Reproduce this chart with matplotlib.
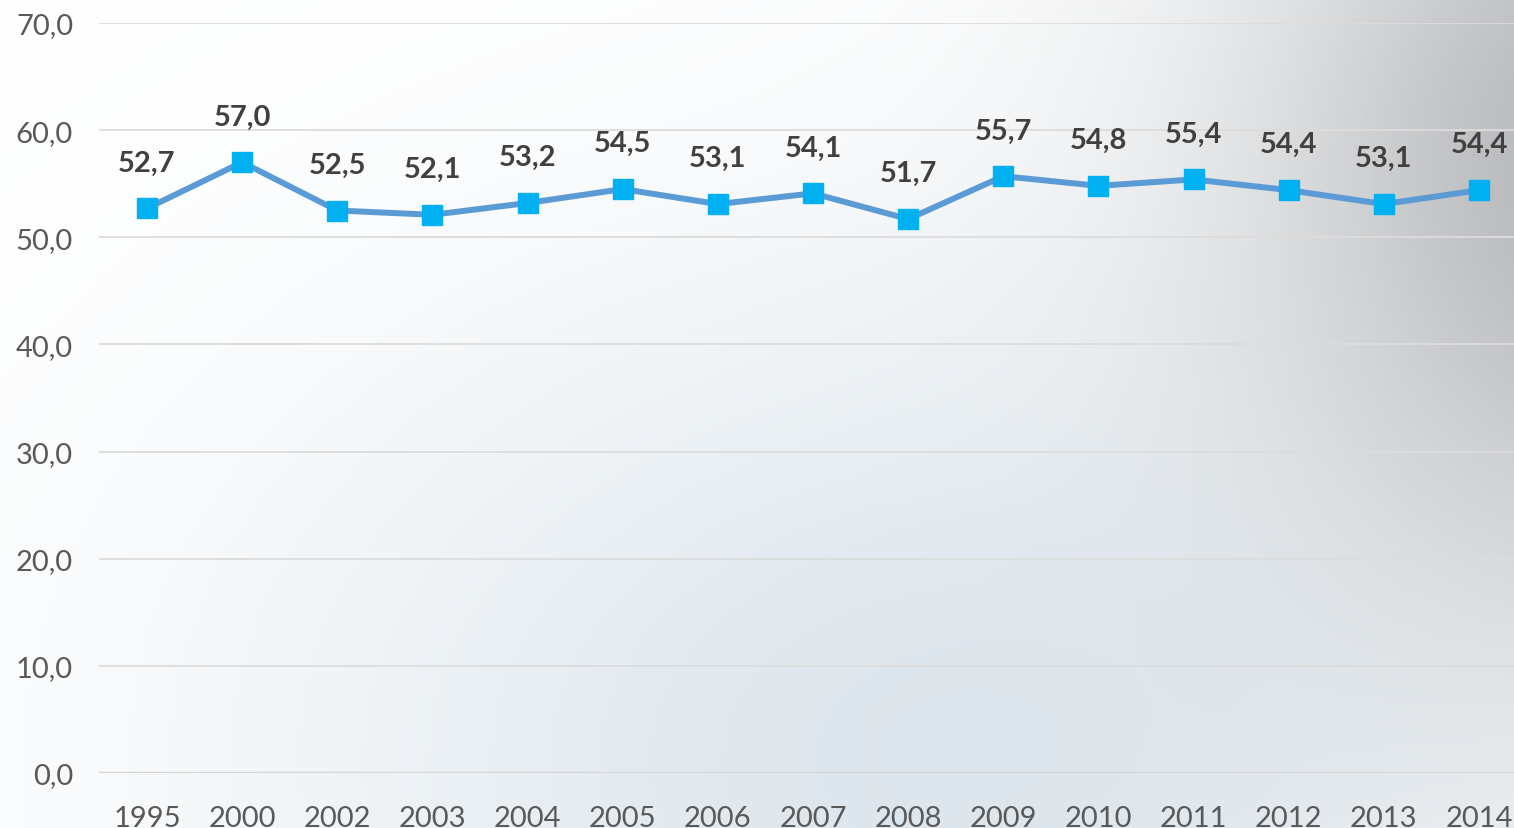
import numpy as np
import matplotlib
matplotlib.use("Agg")
import matplotlib.pyplot as plt

years = ["1995", "2000", "2002", "2003", "2004", "2005", "2006", "2007",
         "2008", "2009", "2010", "2011", "2012", "2013", "2014"]
values = [52.7, 57.0, 52.5, 52.1, 53.2, 54.5, 53.1, 54.1,
          51.7, 55.7, 54.8, 55.4, 54.4, 53.1, 54.4]
y_ticks = [0, 10, 20, 30, 40, 50, 60, 70]

plt.rcParams['font.family'] = ['Lato', 'DejaVu Sans']

W, H = 1514, 829
fig = plt.figure(figsize=(W / 100, H / 100), dpi=100)

# background gradient
bg = fig.add_axes([0, 0, 1, 1], zorder=0)
u = np.linspace(0, 1, 400)[None, :]
v = np.linspace(0, 1, 220)[:, None]
white = np.array([1.0, 1.0, 1.0])
blue = np.array([220, 229, 236]) / 255
gray = np.array([180, 182, 185]) / 255
b = np.exp(-((u - 0.62) ** 2 / 0.2 + (v - 0.92) ** 2 / 0.35))
b = np.clip(b * 0.95, 0, 1)
g = np.exp(-((u - 1.08) ** 2 / 0.065 + (v - 0.2) ** 2 / 0.3))
g = np.clip(g * 1.0, 0, 1)
img = white[None, None, :] * (1 - b[..., None]) + blue[None, None, :] * b[..., None]
img = img * (1 - g[..., None]) + gray[None, None, :] * g[..., None]
bg.imshow(img, aspect='auto', extent=[0, 1, 0, 1], origin='upper')
bg.axis('off')

x = np.arange(len(years))
step_px = (1479 - 147) / (len(years) - 1)
left_px = 147 - step_px / 2
right_px = 1479 + step_px / 2
ax = fig.add_axes([left_px / W, (H - 774) / H, (right_px - left_px) / W, (774 - 24) / H], zorder=1)
ax.patch.set_alpha(0)
ax.set_xlim(-0.5, len(years) - 0.5)
ax.set_ylim(0, 70)

for t in y_ticks[1:]:
    ax.axhline(t, color='#dcdcdc', lw=1.3, zorder=1)
ax.axhline(0, color='#d6d6d6', lw=2.5, zorder=1)

ax.plot(x, values, color='#5b9bd5', lw=4.3, zorder=3,
        marker='s', markersize=14, markerfacecolor='#00b0f0',
        markeredgecolor='#00b0f0', solid_joinstyle='round')

for xi, val in zip(x, values):
    ax.annotate(f"{val:.1f}".replace('.', ','), (xi, val), xytext=(0, 33),
                textcoords='offset points', ha='center', va='center',
                fontsize=21, fontweight='bold', color='#404040', zorder=4)

for s in ax.spines.values():
    s.set_visible(False)
ax.set_yticks(y_ticks)
ax.set_yticklabels([f"{t:.1f}".replace('.', ',') for t in y_ticks])
ax.set_xticks(x)
ax.set_xticklabels(years)
ax.tick_params(axis='both', length=0, labelsize=21, labelcolor='#595959')
ax.tick_params(axis='y', pad=19)
ax.tick_params(axis='x', pad=23)

fig.savefig("out.png", dpi=100)
